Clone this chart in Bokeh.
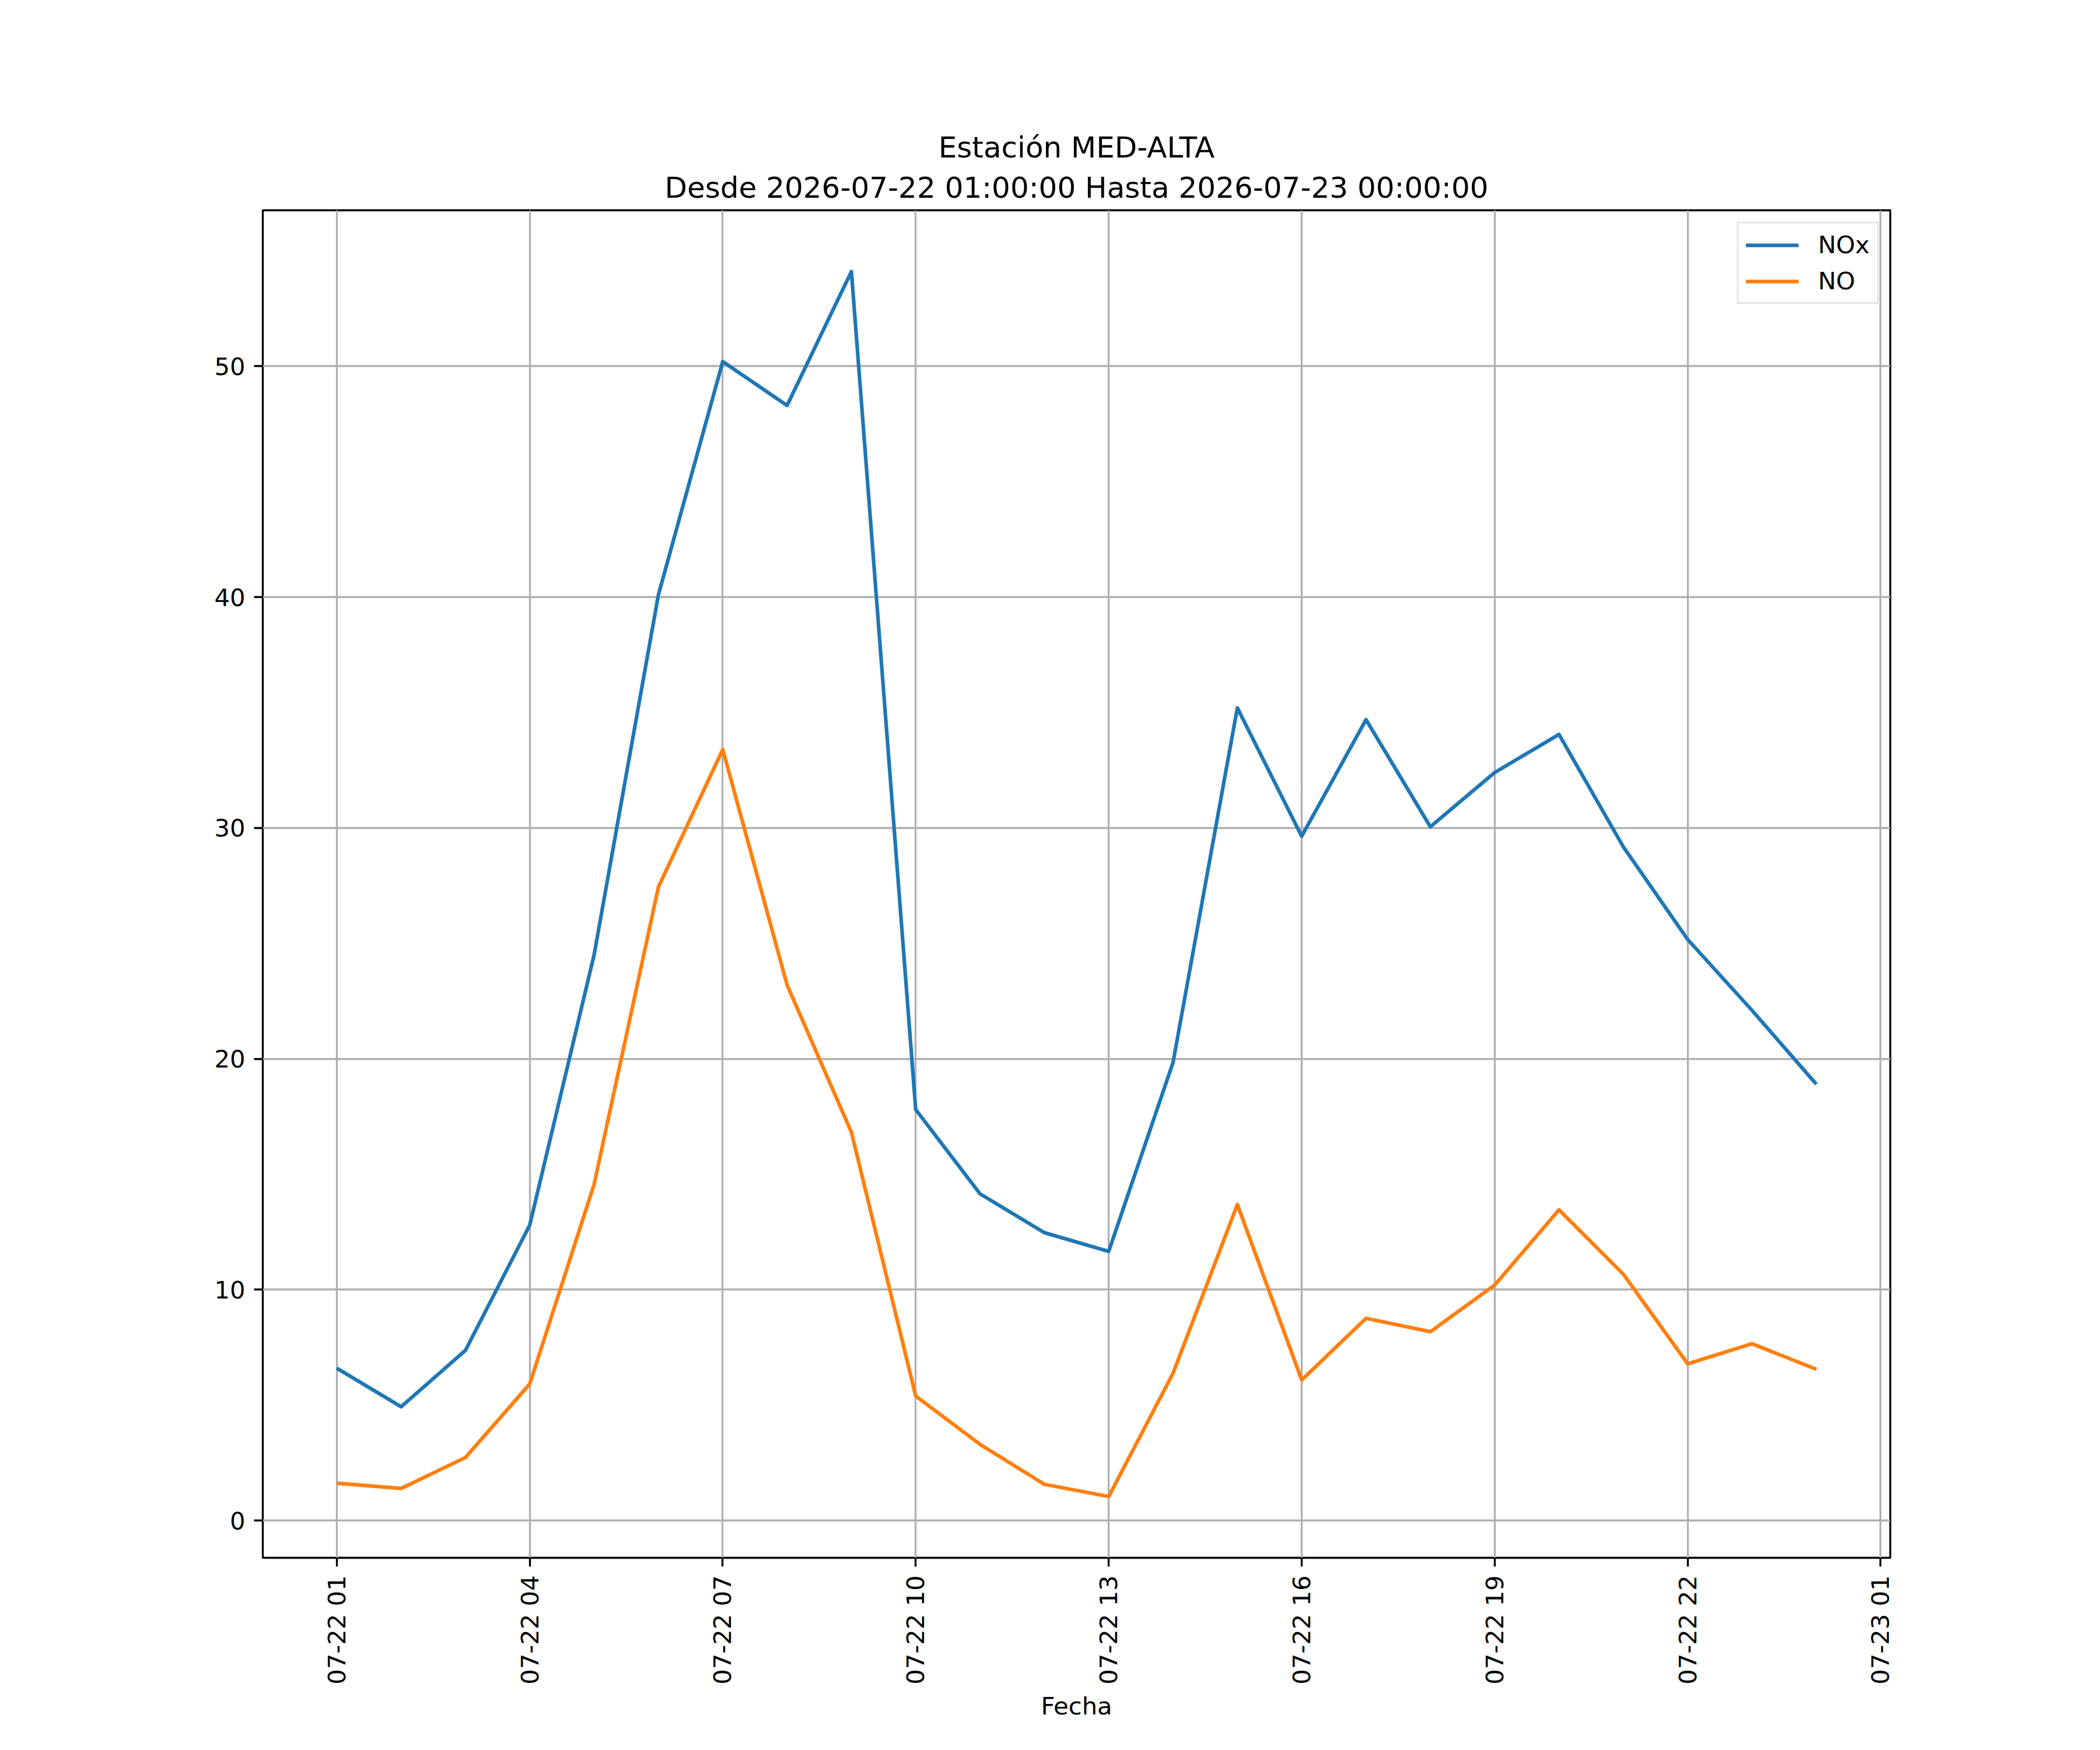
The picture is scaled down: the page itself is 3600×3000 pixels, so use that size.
import math
import pandas as pd
from bokeh.plotting import figure
from bokeh.models import (Range1d, FixedTicker, DatetimeTickFormatter, Legend,
                          LegendItem, Title)
from bokeh.embed import file_html
from bokeh.resources import INLINE

# ---------------- data ----------------
times = ["2026-07-22 01:00", "2026-07-22 02:00", "2026-07-22 03:00", "2026-07-22 04:00",
         "2026-07-22 05:00", "2026-07-22 06:00", "2026-07-22 07:00", "2026-07-22 08:00",
         "2026-07-22 09:00", "2026-07-22 10:00", "2026-07-22 11:00", "2026-07-22 12:00",
         "2026-07-22 13:00", "2026-07-22 14:00", "2026-07-22 15:00", "2026-07-22 16:00",
         "2026-07-22 17:00", "2026-07-22 18:00", "2026-07-22 19:00", "2026-07-22 20:00",
         "2026-07-22 21:00", "2026-07-22 22:00", "2026-07-22 23:00", "2026-07-23 00:00"]
nox = [6.6, 4.93, 7.37, 12.8, 24.5, 40.1, 50.2, 48.3, 54.1, 17.8, 14.15, 12.47,
       11.66, 19.84, 35.2, 29.64, 34.69, 30.05, 32.4, 34.05, 29.18, 25.17, 22.1, 18.9]
no = [1.62, 1.39, 2.73, 5.92, 14.56, 27.44, 33.4, 23.2, 16.82, 5.39, 3.3, 1.57,
      1.04, 6.38, 13.69, 6.09, 8.76, 8.18, 10.2, 13.46, 10.67, 6.79, 7.66, 6.55]
x_tick_times = ["2026-07-22 01:00", "2026-07-22 04:00", "2026-07-22 07:00",
                "2026-07-22 10:00", "2026-07-22 13:00", "2026-07-22 16:00",
                "2026-07-22 19:00", "2026-07-22 22:00", "2026-07-23 01:00"]
y_ticks = [0, 10, 20, 30, 40, 50]
series_names = ["NOx", "NO"]
title_line1 = "Estación MED-ALTA"
title_line2 = "Desde 2026-07-22 01:00:00 Hasta 2026-07-23 00:00:00"
x_label = "Fecha"

# ---------------- styling constants ----------------
FONT = "DejaVu Sans"
PT = 300 / 72.0
TICK_FS = f"{10 * PT:.2f}px"
TITLE_FS = f"{12 * PT:.2f}px"
C_BLUE = "#1f77b4"
C_ORANGE = "#ff7f0e"

t = pd.to_datetime(times)
tick_t = pd.to_datetime(x_tick_times)

# ranges with matplotlib-like 5% margins
tmin, tmax = t.min(), t.max()
span = tmax - tmin
x0 = tmin - span * 0.05
x1 = tmax + span * 0.05
allv = nox + no
vmin, vmax = min(allv), max(allv)
vspan = vmax - vmin
y0 = vmin - vspan * 0.05
y1 = vmax + vspan * 0.05

p = figure(x_axis_type="datetime", output_backend="svg", toolbar_location=None,
           frame_width=2790, frame_height=2310,
           min_border_left=450, min_border_right=344,
           min_border_top=360, min_border_bottom=314,
           x_range=Range1d(x0, x1), y_range=Range1d(y0, y1),
           background_fill_color="white", border_fill_color="white")

# titles (the one added later sits closer to the frame)
p.title.text = title_line1
p.title.align = "center"
p.title.text_font = FONT
p.title.text_font_size = TITLE_FS
p.title.text_font_style = "normal"
p.title.text_color = "black"
p.title.standoff = 0
p.add_layout(Title(text=title_line2, align="center", text_font=FONT,
                   text_font_size=TITLE_FS, text_font_style="normal",
                   text_color="black", standoff=19), "above")

# outline (spines)
p.outline_line_color = "black"
p.outline_line_width = 0.8 * PT
p.outline_line_alpha = 1.0

# axes
xticks_ms = [ts.value // 10**6 for ts in tick_t]
p.xaxis.ticker = FixedTicker(ticks=xticks_ms)
fmt = "%m-%d %H"
p.xaxis.formatter = DatetimeTickFormatter(
    microseconds=fmt, milliseconds=fmt, seconds=fmt, minsec=fmt, minutes=fmt,
    hourmin=fmt, hours=fmt, days=fmt, months=fmt, years=fmt)
p.xaxis.major_label_orientation = math.pi / 2
p.yaxis.ticker = FixedTicker(ticks=y_ticks)

for ax in (p.xaxis[0], p.yaxis[0]):
    ax.axis_line_color = None
    ax.major_tick_line_color = "black"
    ax.major_tick_line_width = 0.8 * PT
    ax.major_tick_out = int(round(3.5 * PT))
    ax.major_tick_in = 0
    ax.minor_tick_line_color = None
    ax.major_label_text_font = FONT
    ax.major_label_text_font_size = TICK_FS
    ax.major_label_text_color = "black"
    ax.major_label_standoff = int(round(3.5 * PT))

p.xaxis.axis_label = x_label
p.xaxis.axis_label_text_font = FONT
p.xaxis.axis_label_text_font_size = TICK_FS
p.xaxis.axis_label_text_font_style = "normal"
p.xaxis.axis_label_text_color = "black"
p.xaxis.axis_label_standoff = 9

# grid
p.xgrid.ticker = FixedTicker(ticks=xticks_ms)
p.ygrid.ticker = FixedTicker(ticks=y_ticks)
for g in (p.xgrid[0], p.ygrid[0]):
    g.grid_line_color = "#b0b0b0"
    g.grid_line_width = 0.8 * PT
    g.grid_line_alpha = 1.0

# lines
r1 = p.line(t, nox, line_color=C_BLUE, line_width=1.5 * PT, line_join="round")
r2 = p.line(t, no, line_color=C_ORANGE, line_width=1.5 * PT, line_join="round")

legend = Legend(items=[LegendItem(label=series_names[0], renderers=[r1]),
                       LegendItem(label=series_names[1], renderers=[r2])],
                location="top_right", margin=20, padding=12,
                spacing=13, glyph_width=91, glyph_height=42, label_height=42,
                label_standoff=33,
                label_text_font=FONT, label_text_font_size=TICK_FS,
                label_text_color="black",
                border_line_color="#cccccc", border_line_width=0.8 * PT,
                background_fill_color="white", background_fill_alpha=0.8)
p.add_layout(legend, "center")

open("out.html", "w").write(file_html(p, INLINE))
